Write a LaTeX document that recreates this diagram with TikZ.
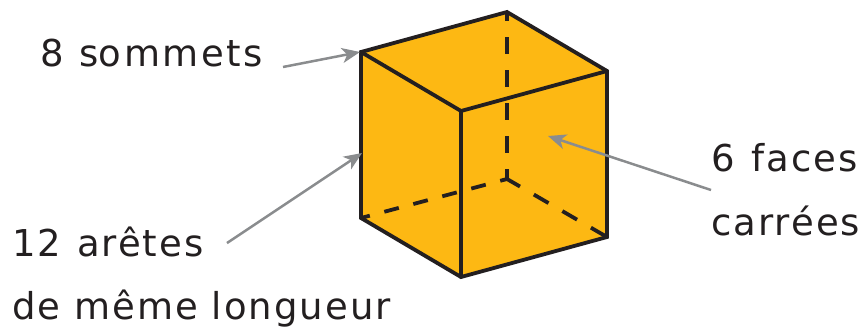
\documentclass[tikz,border=0pt]{standalone}
\usepackage{fontspec}
\setmainfont[LetterSpace=5.5]{DejaVu Sans}
\definecolor{cubefill}{HTML}{FDB813}
\definecolor{ink}{HTML}{231F20}
\definecolor{arrowgrey}{HTML}{8A8C8E}
\usetikzlibrary{arrows.meta}
\tikzset{
  x=1pt,y=-1pt,
  edge/.style={ink,line width=3.8pt,line join=miter,line cap=round},
  hidden/.style={ink,line width=3.8pt},
  pointer/.style={arrowgrey,line width=2.5pt,-{Stealth[length=18pt,width=15pt,inset=5pt]}},
  lbl/.style={text=ink,font=\fontsize{37}{37}\selectfont,inner sep=0pt,anchor=base west}
}
\begin{document}
\begin{tikzpicture}
\useasboundingbox (0,0) rectangle (866,327);
\coordinate (tl) at (361,52);
\coordinate (tb) at (507,12);
\coordinate (tr) at (607,71);
\coordinate (tf) at (461,111);
\coordinate (bl) at (361,218);
\coordinate (bf) at (461,277);
\coordinate (br) at (607,237);
\coordinate (bb) at (507,179);
\fill[cubefill] (tl)--(tb)--(tr)--(br)--(bf)--(bl)--cycle;
\draw[hidden,dash pattern=on 17pt off 16pt,dash phase=8pt] (tb)--(bb);
\draw[hidden,dash pattern=on 15pt off 15pt,dash phase=8pt] (bb)--(bl);
\draw[hidden,dash pattern=on 17pt off 16pt,dash phase=2pt] (bb)--(br);
\draw[edge] (tl)--(tb)--(tr)--(br)--(bf)--(bl)--cycle;
\draw[edge] (tl)--(tf)--(tr);
\draw[edge] (tf)--(bf);
\node[lbl] (a) at (40,66) {8\hspace{2pt} s\addfontfeature{LetterSpace=7}ommets};
\node[lbl] (b) at (12,256) {12\hspace{2pt} arêtes};
\node[lbl] (c) at (12,319) {de même longueur};
\node[lbl] (d) at (711,171) {6\hspace{3pt} faces};
\node[lbl] (e) at (711,235) {carrées};
\coordinate (as) at (283,67);
\coordinate (ae) at (360,52);
\coordinate (bs) at (227,243);
\coordinate (be) at (362,153);
\coordinate (ds) at (711,190);
\coordinate (de) at (548,136);
\draw[pointer] (as)--(ae);
\draw[pointer] (bs)--(be);
\draw[pointer] (ds)--(de);
\end{tikzpicture}
\end{document}
